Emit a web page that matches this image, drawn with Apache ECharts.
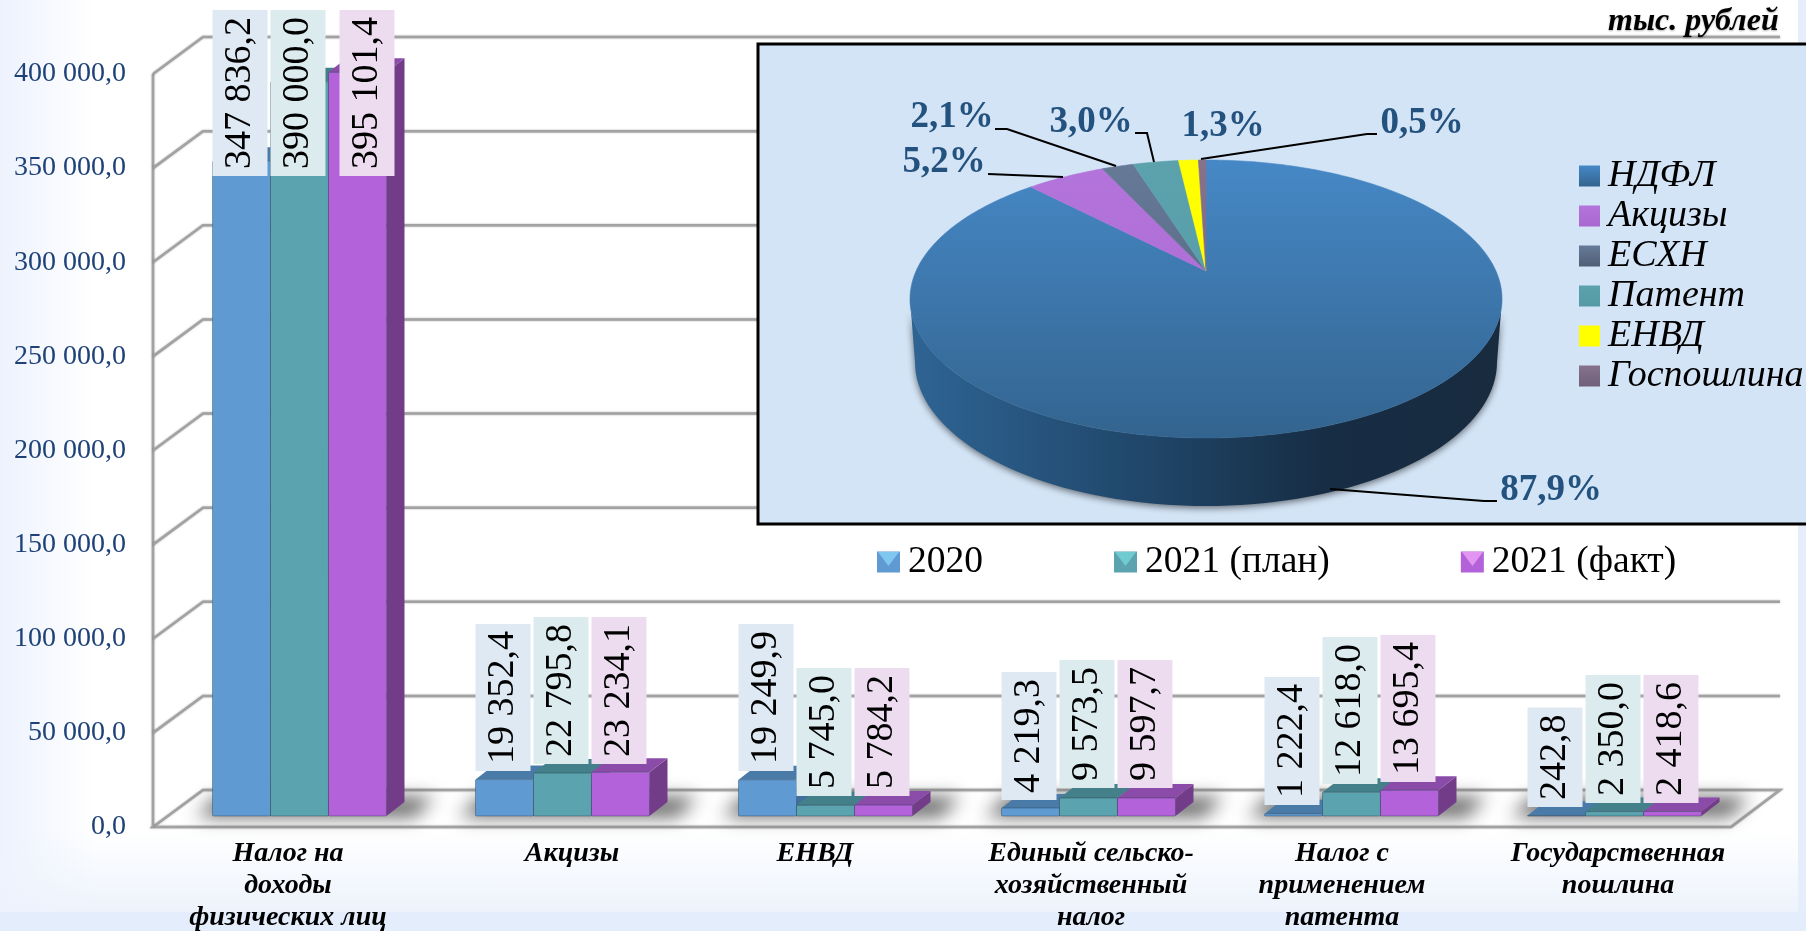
<!DOCTYPE html>
<html><head><meta charset="utf-8">
<style>
html,body{margin:0;padding:0;width:1806px;height:931px;overflow:hidden;background-color:#fff;
background-image:
 linear-gradient(#e3edfb,#e3edfb),
 linear-gradient(#e6eefb,#e6eefb),
 linear-gradient(to bottom,rgba(236,243,252,0) 830px,#edf3fc 912px),
 linear-gradient(to right,#edf2fd 0,#ffffff 95px),
 linear-gradient(to left,#eaf0fb 0,#ffffff 70px);
background-size:100% 19px,8px 100%,100% 100%,100% 100%,100% 100%;
background-position:0 912px,1798px 0,0 0,0 0,0 0;
background-repeat:no-repeat;}
#c{width:1806px;height:931px}
</style>
<script src="https://cdn.jsdelivr.net/npm/echarts@6/dist/echarts.min.js"></script>
</head><body><div id="c"></div>
<script>
// ---- data ----
const categories = ['Налог на\nдоходы\nфизических лиц','Акцизы','ЕНВД','Единый сельско-\nхозяйственный\nналог','Налог с\nприменением\nпатента','Государственная\nпошлина'];
const yearNames = ['2020','2021 (план)','2021 (факт)'];
const values2020 = [347836.2,19352.4,19249.9,4219.3,1222.4,242.8];
const valuesPlan = [390000.0,22795.8,5745.0,9573.5,12618.0,2350.0];
const valuesFact = [395101.4,23234.1,5784.2,9597.7,13695.4,2418.6];
const yTicks = [0,50000,100000,150000,200000,250000,300000,350000,400000];
const pieNames = ['НДФЛ','Акцизы','ЕСХН','Патент','ЕНВД','Госпошлина'];
const pieShares = [87.9,5.2,2.1,3.0,1.3,0.5];
// ---- layout and style (not data) ----
const F = '"Liberation Serif"';
const labelGap2020 = [640,45,45,16,11,9];
const labelGapPlan = [640,52,20,28,32,13];
const labelGapFact = [640,52,20,28,34,13];
const labelShiftFact = [11,0,0,0,0,0];
const catLabelShift = [3.5,24.5,4.5,17.5,5.5,18.5];
const barStyle = [
 {front:'#5f9bd2',side:'#3f6f9e',top:'#4a7aa8',box:'#dfe9f4',tri:'#7fc6f0'},
 {front:'#5ba3ae',side:'#3e7a84',top:'#44808a',box:'#dcebee',tri:'#6fcad2'},
 {front:'#b362d9',side:'#723c88',top:'#8b4ba8',box:'#eddcf0',tri:'#e296f2'}];
const depth = {dx:18,dy:-14}, plane = {dx:15,dy:-11}, wall = {dx:50,dy:-37};
const pieGeo = {cx:1206,cy:299,rx:296,ry:139,tipX:1206,tipY:271,k:135,botCy:362,botRx:291,botRy:144};
const pieColors = [
 ['#4688c6','#33648f'],['#b374dc','#a968d0'],['#667a98','#4f5e75'],['#5ba2ad','#559aa5'],['#ffff00','#ffff00'],['#86728c','#6f6078']];
const pieLabelPos = [[1551,490],[944,162],[952,117],[1091,122],[1223,126],[1422,123]];
const pieLeaders = [
 [[1330,489],[1484,501],[1497,501]],
 [[988,174],[1063,177]],
 [[995,129],[1007,129],[1116,166]],
 [[1135,133],[1147,133],[1154,162]],
 null,
 [[1201,159],[1367,134],[1377,134]]];
const legendTriX = [877,1114,1461];

function fmtTick(v){
  return String(Math.trunc(v)).replace(/\B(?=(\d{3})+$)/g,' ')+','+String(Math.round(v*10)%10);
}
function fmtVal(v){ return fmtTick(v); }

function wallRender(params,api){
  const v = api.value(0), cs = params.coordSys, x0 = cs.x, x1 = cs.x+cs.width;
  const y = api.coord([0,v])[1];
  const line = {stroke:'#a2a2a2',lineWidth:2.5,shadowBlur:2,shadowColor:'rgba(0,0,0,.35)',fill:null};
  const kids = [];
  if(v===0){
    kids.push({type:'polygon',shape:{points:[[x0,y],[x0+wall.dx,y+wall.dy],[x1+wall.dx-1,y+wall.dy],[x1,y]]},style:{fill:'#ffffff',stroke:'#a2a2a2',lineWidth:2.5,shadowBlur:2,shadowColor:'rgba(0,0,0,.35)'}});
    kids.push({type:'line',shape:{x1:x0,y1:y,x2:x0,y2:cs.y},style:line});
  } else {
    kids.push({type:'polyline',shape:{points:[[x0,y],[x0+wall.dx,y+wall.dy],[x1+wall.dx-1,y+wall.dy]]},style:line});
  }
  return {type:'group',children:kids};
}
function shadowRender(params,api){
  const i = api.value(0), c = api.coord([i,0]), bw = api.size([1,0])[0]*0.2205;
  const x = c[0]+plane.dx-bw*1.5, y = c[1]+plane.dy, w = bw*3, off = 3000;
  // only the soft shadow of this off-canvas shape falls on the floor
  return {type:'polygon',shape:{points:[[x-16-off,y+1],[x+w+28-off,y+1],[x+w+48-off,y-19],[x+4-off,y-19]]},
    style:{fill:'#000',shadowBlur:18,shadowOffsetX:off,shadowColor:'rgba(95,95,95,.95)'}};
}
function barRender(slot,gaps){
  return function(params,api){
    const i = api.value(0), v = api.value(1), t = api.coord([i,v]), b = api.coord([i,0]);
    const bw = api.size([1,0])[0]*0.2205, st = barStyle[slot];
    const x = t[0]+plane.dx-bw*1.5+slot*bw, top = t[1]+plane.dy, base = b[1]+plane.dy, r = x+bw;
    const d = depth;
    const kids = [
     {type:'polygon',shape:{points:[[r,top],[r+d.dx,top+d.dy],[r+d.dx,base+d.dy],[r,base]]},style:{fill:st.side}},
     {type:'polygon',shape:{points:[[x,top],[x+d.dx,top+d.dy],[r+d.dx,top+d.dy],[r,top]]},style:{fill:st.top}},
     {type:'rect',shape:{x:x,y:top,width:bw,height:Math.max(base-top,0.5),r:1},style:{fill:st.front,stroke:'rgba(35,55,75,.4)',lineWidth:1}},
     {type:'text',z2:100,x:x+27.5+(slot===2?labelShiftFact[i]:0),y:base-gaps[i],rotation:Math.PI/2,
      style:{text:fmtVal(v),font:'38px '+F,fill:'#000',align:'left',verticalAlign:'middle',
        backgroundColor:st.box,padding:[0,7],lineHeight:55}}
    ];
    return {type:'group',children:kids};
  };
}
function pieRay(th){
  const g = pieGeo, dx = g.rx*Math.sin(th), dy = -g.k*Math.cos(th), ty = g.tipY-g.cy;
  const A = dx*dx/(g.rx*g.rx)+dy*dy/(g.ry*g.ry), B = 2*ty*dy/(g.ry*g.ry), C = ty*ty/(g.ry*g.ry)-1;
  const s = (-B+Math.sqrt(B*B-4*A*C))/(2*A);
  return [g.tipX+s*dx,g.tipY+s*dy];
}
function sliceRender(idx){
  return function(params,api){
    const g = pieGeo, total = pieShares.reduce((a,b)=>a+b,0);
    let before = 0; for(let j=0;j<idx;j++) before += pieShares[j];
    const share = api.value(0);
    const a0 = before/total*2*Math.PI, a1 = (before+share)/total*2*Math.PI;
    const pts = [[g.tipX,g.tipY]], n = Math.max(4,Math.ceil((a1-a0)/0.02));
    for(let k=0;k<=n;k++) pts.push(pieRay(a0+(a1-a0)*k/n));
    const fill = {type:'linear',x:0,y:g.cy-g.ry,x2:0,y2:g.cy+g.ry,global:true,
      colorStops:[{offset:0,color:pieColors[idx][0]},{offset:1,color:pieColors[idx][1]}]};
    const kids = [];
    if(idx===0){
      const side = [];
      for(let k=0;k<=80;k++){const t=Math.PI*k/80; side.push([g.cx+g.rx*Math.cos(t),g.cy+g.ry*Math.sin(t)]);}
      for(let k=80;k>=0;k--){const t=Math.PI*k/80; side.push([g.cx+g.botRx*Math.cos(t),g.botCy+g.botRy*Math.sin(t)]);}
      kids.push({type:'polygon',shape:{points:side},style:{
        fill:{type:'linear',x:g.cx-g.rx,y:0,x2:g.cx+g.rx,y2:0,global:true,colorStops:[
          {offset:0,color:'#2f6493'},{offset:.2,color:'#27557f'},{offset:.45,color:'#1e4263'},{offset:.7,color:'#172d44'},{offset:1,color:'#182b3f'}]},
        shadowBlur:7,shadowColor:'rgba(0,0,0,.55)',shadowOffsetY:2}});
    }
    kids.push({type:'polygon',shape:{points:pts},style:{fill:fill,stroke:fill,lineWidth:.6}});
    if(pieLeaders[idx]) kids.push({type:'polyline',shape:{points:pieLeaders[idx]},style:{stroke:'#000',lineWidth:2,fill:null}});
    kids.push({type:'text',x:pieLabelPos[idx][0],y:pieLabelPos[idx][1],style:{
      text:share.toFixed(1).replace('.',',')+'%',font:'bold 37px '+F,fill:'#24527f',align:'center',verticalAlign:'middle'}});
    return {type:'group',children:kids};
  };
}
const barSets = [[values2020,labelGap2020],[valuesPlan,labelGapPlan],[valuesFact,labelGapFact]];
const series = [
 {type:'custom',name:'walls',silent:true,z:1,clip:false,coordinateSystem:'cartesian2d',data:yTicks.map(v=>[v]),encode:{y:0},renderItem:wallRender},
 {type:'custom',name:'shadows',silent:true,z:1.5,clip:false,coordinateSystem:'cartesian2d',data:categories.map((c,i)=>[i]),encode:{x:0},renderItem:shadowRender}
];
barSets.forEach((s,slot)=>{
  series.push({type:'custom',name:yearNames[slot],z:2,clip:false,coordinateSystem:'cartesian2d',
    itemStyle:{color:barStyle[slot].front},
    data:s[0].map((v,i)=>[i,v]),encode:{x:0,y:1},renderItem:barRender(slot,s[1])});
});
pieNames.forEach((n,i)=>{
  series.push({type:'custom',name:n,z:4,coordinateSystem:'none',itemStyle:{color:pieColors[i][0]},
    data:[[pieShares[i]]],renderItem:sliceRender(i)});
});
const chart = echarts.init(document.getElementById('c'),null,{renderer:'canvas',width:1806,height:931});
chart.setOption({
 animation:false,backgroundColor:'transparent',
 title:{text:'тыс. рублей',left:1608,top:6,padding:0,textStyle:{fontFamily:F,fontStyle:'italic',fontWeight:'bold',fontSize:32,color:'#000',
   textShadowColor:'rgba(0,0,0,.3)',textShadowBlur:2,textShadowOffsetY:1}},
 grid:{left:153,top:74,width:1578,height:753,containLabel:false,outerBoundsMode:'none'},
 xAxis:{type:'category',data:categories.map((c,i)=>({value:c,textStyle:{padding:[0,0,0,2*catLabelShift[i]]}})),
   axisLine:{show:false},axisTick:{show:false},splitLine:{show:false},
   axisLabel:{interval:0,margin:11,fontFamily:F,fontStyle:'italic',fontWeight:'bold',fontSize:28,lineHeight:32,color:'#000'}},
 yAxis:{type:'value',min:0,max:400000,interval:50000,axisLine:{show:false},axisTick:{show:false},splitLine:{show:false},
   axisLabel:{margin:27,fontFamily:F,fontSize:28,color:'#1e4278',formatter:fmtTick}},
 legend:[
  {left:877,top:543,padding:0,itemWidth:23,itemHeight:21,itemGap:131,icon:'rect',z:6,selectedMode:false,
   textStyle:{fontFamily:F,fontSize:37.5,color:'#000',padding:[0,0,0,3]},
   data:yearNames.map((n,i)=>({name:n,itemStyle:{color:barStyle[i].front}}))},
  {orient:'vertical',left:1579,top:156,padding:0,itemWidth:21,itemHeight:21,itemGap:0,icon:'rect',z:6,selectedMode:false,
   textStyle:{fontFamily:F,fontStyle:'italic',fontSize:38,color:'#000',lineHeight:40,padding:[0,0,0,3]},
   data:pieNames.map((n,i)=>({name:n,itemStyle:{color:{type:'linear',x:0,y:0,x2:0,y2:1,colorStops:[{offset:0,color:pieColors[i][0]},{offset:1,color:pieColors[i][1]}]}}}))}
 ],
 graphic:{elements:[
  {type:'rect',z:3,silent:true,shape:{x:758,y:44,width:1060,height:480},style:{fill:'#d3e4f6',stroke:'#000',lineWidth:3}}
 ].concat(legendTriX.map((x,i)=>({type:'polygon',z:7,silent:true,shape:{points:[[x+1,552],[x+22,552],[x+11.5,566]]},style:{fill:barStyle[i].tri}})))},
 series:series
});
</script></body></html>
